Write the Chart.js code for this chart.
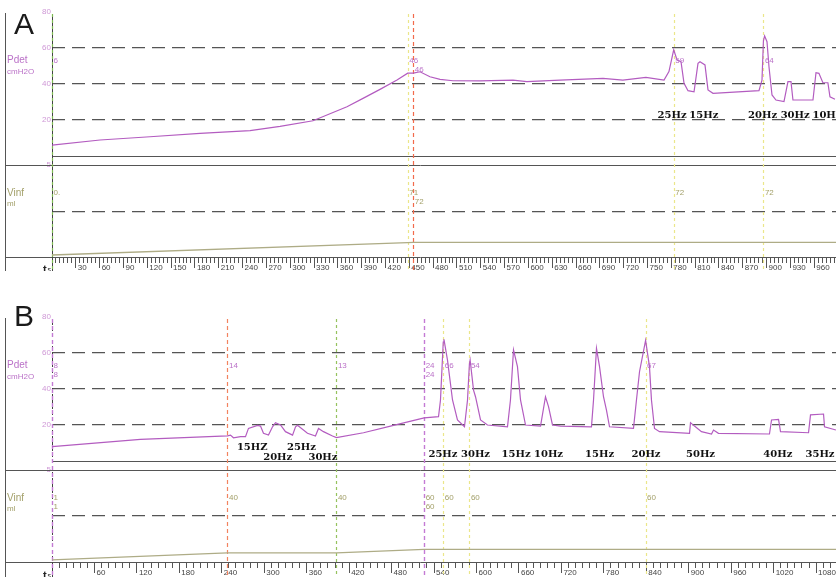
<!DOCTYPE html>
<html>
<head>
<meta charset="utf-8">
<script src="https://cdn.jsdelivr.net/npm/chart.js@4.4.1/dist/chart.umd.min.js"></script>
<style>
  html, body { margin: 0; padding: 0; background: #fff; }
  body { width: 836px; height: 577px; position: relative; overflow: hidden; }
  canvas { position: absolute; left: 0; }
  #chartA { top: 0; }
  #chartB { top: 300px; }
</style>
</head>
<body>
<canvas id="chartA" width="836" height="271"></canvas>
<canvas id="chartB" width="836" height="277"></canvas>
<script>
// ---------- Recording A ----------
const pdetTimeA = [0, 60.5, 123.4, 186.4, 249.4, 287.2, 328.7, 371.5, 391.7, 413.1, 434.5, 448, 455, 463.5, 476, 488.7, 505, 539, 580.6, 598, 639.8, 694, 719, 748, 770.8, 777, 783, 787.2, 792.2, 796, 801, 808.6, 813.6, 816.1, 822.4, 826.2, 832.5, 890.4, 894.2, 896, 897.5, 900.5, 903, 906.8, 911.8, 921.9, 926.9, 930.7, 933.2, 958.4, 962.2, 965.9, 970.9, 977.2, 979.8, 986.1];
const pdetA     = [6, 8.9, 10.7, 12.6, 14.1, 16.5, 19.6, 27.4, 32, 37, 42.2, 46, 46, 46.8, 44, 42.6, 41.8, 41.7, 42.2, 41.3, 42.2, 43.1, 42.2, 43.7, 42.2, 46.9, 59, 53.3, 52.4, 40.4, 36.3, 35.7, 51.5, 52.4, 50.6, 36.7, 34.8, 36.3, 42.2, 64, 66.7, 63.5, 49.6, 33.9, 31.1, 30.2, 41.3, 41.3, 31.1, 31.1, 46.3, 45.9, 40.7, 40.7, 32.9, 31.5];
const vinfTimeA = [0, 448, 455, 988];
const vinfA     = [0, 71, 72, 72];
const markerTimesA = [0, 448, 455, 783, 896];
const markerPdetA  = [6, 46, 46, 59, 64];
const markerVinfA  = [0, 71, 72, 72, 72];
const freqLabelsA = ['25Hz', '15Hz', '20Hz', '30Hz', '10Hz'];
const freqTimesA  = [781, 821, 895, 936, 976];

// ---------- Recording B ----------
const pdetTimeB = [0, 125, 248, 252.3, 256.5, 266.4, 273.5, 277.7, 290.5, 294.7, 298.9, 306, 311.7, 315.9, 323, 330, 340, 344.2, 347, 361.1, 372.4, 376.7, 383.7, 396.5, 402, 440.3, 478.4, 526, 546.3, 549.1, 553, 554, 559, 566.1, 573.1, 583, 587.3, 590, 591, 595.8, 598.6, 605.7, 615.5, 643.8, 648, 652.3, 657.9, 662.2, 669.3, 690.5, 697.5, 701.8, 707.4, 718.7, 762.5, 765.4, 769.6, 773.9, 779.5, 783.7, 788, 821.9, 826.1, 830.4, 839, 844.5, 847.3, 851.6, 858.7, 901.1, 902.5, 908.1, 918, 932.2, 935, 942, 1014.1, 1017, 1026.9, 1029.7, 1069.3, 1072.1, 1090.5, 1091.9, 1108];
const pdetB     = [8, 12, 14, 14.4, 12.9, 13.5, 13.5, 18.1, 19.8, 19.4, 15.4, 14.4, 19, 21.3, 20, 16.3, 14.4, 19, 19.8, 15.4, 13.9, 18.1, 16.3, 13.9, 13, 15.7, 19.4, 24, 24.6, 33.9, 66, 67.6, 56, 33.9, 22.8, 19, 33.9, 54, 56.1, 39.4, 35.7, 22.8, 20, 19, 33.9, 61.7, 52.4, 33.9, 20, 19.4, 35.7, 30.2, 20, 19.4, 19, 33.9, 62.6, 52.4, 35.7, 28.3, 19, 18.1, 33.9, 49.6, 67, 52.4, 33.9, 18.1, 16.3, 15.4, 21.3, 19.4, 16.3, 15, 17.2, 15.4, 15, 22.8, 23.1, 16.3, 15.7, 25.6, 26.1, 19, 17.2];
const vinfTimeB = [0, 248, 402, 526, 1110];
const vinfB     = [1, 40, 40, 60, 60];
const markerTimesB = [0, 0, 248, 402, 526, 526, 553, 590, 839];
const markerPdetB  = [8, 8, 14, 13, 24, 24, 66, 54, 67];
const markerVinfB  = [1, 1, 40, 40, 60, 60, 60, 60, 60];
const freqLabelsB = ['15HZ', '20Hz', '25Hz', '30Hz', '25Hz', '30Hz', '15Hz', '10Hz', '15Hz', '20Hz', '50Hz', '40Hz', '35Hz'];
const freqTimesB  = [283, 319, 352.6, 383, 552.6, 598.6, 656, 701.8, 774, 839.6, 916.6, 1026, 1085.5];

// ---------- Axis ticks ----------
const pdetTicks = [-5, 20, 40, 60, 80];
const pdetGrid  = [20, 40, 60];
const vinfTicks = [250, 500];
const vinfGrid  = [250];

// ---------- Styles ----------
const FONT = '"Liberation Sans", Arial, sans-serif';
const PDET_COLOR = '#b35cc0';
const PDET_TEXT = '#bb72c8';
const PDET_TICK = '#cf98d6';
const VINF_COLOR = '#aeac86';
const VINF_TEXT = '#a3a06a';
const GRID_COLOR = '#555';
const RULE_COLOR = '#555';
const MARK = {
  green:  { color: '#7cb852', dash: [3, 3] },
  yellow: { color: '#ebe68a', dash: [3, 3] },
  red:    { color: '#f26a4b', dash: [4, 3] },
  lilac:  { color: '#c47ad4', dash: [4, 3] },
  orange: { color: '#f2835f', dash: [4, 3] },
  lime:   { color: '#96c25e', dash: [3, 3] }
};
const markerStyleA = [MARK.green, MARK.yellow, MARK.red, MARK.yellow, MARK.yellow];
const markerStyleB = [MARK.lilac, MARK.lilac, MARK.orange, MARK.lime, MARK.lilac, MARK.lilac, MARK.yellow, MARK.yellow, MARK.yellow];

// Panel geometry (pixels inside each canvas)
const panels = [
  {
    letter: 'A', canvas: 'chartA', top: 12, left: 52, axisHeight: 14, pxPerSec: 0.794,
    pdetAnchor: [-5, 165, 80, 12], vinfAnchor: [0, 255, 500, 168],
    majorStep: 30, minorStep: 5, letterY: 34,
    pdetLabelY: 60.5, vinfLabelY: 193, freqY: 115,
    pdetTime: pdetTimeA, pdet: pdetA, vinfTime: vinfTimeA, vinf: vinfA,
    markerTimes: markerTimesA, markerPdet: markerPdetA, markerVinf: markerVinfA, markerStyle: markerStyleA,
    freqLabels: freqLabelsA, freqTimes: freqTimesA
  },
  {
    letter: 'B', canvas: 'chartB', top: 17, left: 52, axisHeight: 15, pxPerSec: 0.7075,
    pdetAnchor: [-5, 170, 80, 17], vinfAnchor: [0, 260, 500, 172],
    majorStep: 60, minorStep: 10, letterY: 25.5,
    pdetLabelY: 65.5, vinfLabelY: 198, freqY: 154,
    pdetTime: pdetTimeB, pdet: pdetB, vinfTime: vinfTimeB, vinf: vinfB,
    markerTimes: markerTimesB, markerPdet: markerPdetB, markerVinf: markerVinfB, markerStyle: markerStyleB,
    freqLabels: freqLabelsB, freqTimes: freqTimesB
  }
];

function points(times, values) {
  return times.map((t, i) => ({ x: t, y: values[i] }));
}

// Axis min/max so that two anchor values land on the given pixel rows
function rangeFromAnchors(a, top, bottom) {
  const k = (a[3] - a[1]) / (a[2] - a[0]);
  return { min: a[0] + (bottom - a[1]) / k, max: a[0] + (top - a[1]) / k };
}

function stepTicks(max, step) {
  const out = [];
  for (let v = 0; v <= max + 1e-6; v += step) out.push({ value: v });
  return out;
}

function valueLabel(v) { return v === 0 ? '0.' : String(v); }

function decorPlugin(panel) {
  const frameX = 5.5;
  return {
    id: 'decor' + panel.letter,
    beforeDatasetsDraw(chart) {
      const { ctx, chartArea: area, scales } = chart;
      const W = chart.width, H = chart.height;
      ctx.save();
      ctx.strokeStyle = RULE_COLOR;
      ctx.lineWidth = 1;
      const hline = (x0, y) => {
        const yy = Math.round(y) + 0.5;
        ctx.beginPath(); ctx.moveTo(x0, yy); ctx.lineTo(W, yy); ctx.stroke();
      };
      hline(area.left, scales.p.getPixelForValue(0));
      hline(frameX - 0.5, scales.p.getPixelForValue(pdetTicks[0]));
      hline(frameX - 0.5, area.bottom - 0.5);
      ctx.beginPath(); ctx.moveTo(frameX, area.top + 1); ctx.lineTo(frameX, H); ctx.stroke();

      // event markers
      panel.markerTimes.forEach((t, i) => {
        const st = panel.markerStyle[i];
        const x = Math.round(scales.x.getPixelForValue(t)) + 0.5;
        if (t === 0) {
          ctx.setLineDash([3, 3]);
          ctx.lineDashOffset = 3;
          ctx.strokeStyle = '#444';
          ctx.beginPath(); ctx.moveTo(x, area.top + 2); ctx.lineTo(x, H); ctx.stroke();
        }
        ctx.setLineDash(st.dash);
        ctx.lineDashOffset = 0;
        ctx.strokeStyle = st.color;
        ctx.lineWidth = 1.2;
        ctx.beginPath(); ctx.moveTo(x, area.top + 2); ctx.lineTo(x, H); ctx.stroke();
        ctx.lineWidth = 1;
      });
      ctx.restore();
    },
    afterDatasetsDraw(chart) {
      const { ctx, scales } = chart;
      const H = chart.height;
      ctx.save();
      ctx.textBaseline = 'middle';

      // panel letter
      ctx.fillStyle = '#1a1a1a';
      ctx.font = '30px ' + FONT;
      ctx.textBaseline = 'alphabetic';
      ctx.fillText(panel.letter, 14, panel.letterY);
      ctx.textBaseline = 'middle';

      // channel names
      const nameX = 7;
      ctx.fillStyle = PDET_TEXT;
      ctx.font = '10px ' + FONT;
      ctx.fillText('Pdet', nameX, panel.pdetLabelY);
      ctx.font = '8px ' + FONT;
      ctx.fillText('cmH2O', nameX, panel.pdetLabelY + 11.5);
      ctx.fillStyle = VINF_TEXT;
      ctx.font = '10px ' + FONT;
      ctx.fillText('Vinf', nameX, panel.vinfLabelY);
      ctx.font = '8px ' + FONT;
      ctx.fillText('ml', nameX, panel.vinfLabelY + 11);

      // time axis name
      ctx.fillStyle = '#222';
      ctx.textBaseline = 'alphabetic';
      ctx.font = 'bold 11px ' + FONT;
      ctx.fillText('t', 43, H + 2);
      ctx.font = '7px ' + FONT;
      ctx.fillText('s', 47.5, H + 1);
      ctx.textBaseline = 'middle';

      // marker readouts, stacked when two markers share a moment
      let prevT = -1e9, row = 0;
      ctx.font = '8px ' + FONT;
      panel.markerTimes.forEach((t, i) => {
        row = (Math.abs(t - prevT) < 10) ? row + 1 : 0;
        prevT = t;
        const x = scales.x.getPixelForValue(t) + 1.5;
        ctx.fillStyle = PDET_TEXT;
        ctx.fillText(String(panel.markerPdet[i]), x, panel.pdetLabelY + row * 9);
        ctx.fillStyle = VINF_TEXT;
        ctx.fillText(valueLabel(panel.markerVinf[i]), x, panel.vinfLabelY + row * 9);
      });

      // stimulation frequency labels; overlapping neighbours are staggered
      ctx.font = 'bold 10px "DejaVu Serif", serif';
      ctx.fillStyle = '#111';
      ctx.textAlign = 'center';
      const items = panel.freqLabels.map((s, i) => ({
        s, x: scales.x.getPixelForValue(panel.freqTimes[i]), w: ctx.measureText(s).width
      }));
      const inGroup = items.map(() => false);
      for (let i = 1; i < items.length; i++) {
        if (Math.abs(items[i].x - items[i - 1].x) < (items[i].w + items[i - 1].w) / 2) {
          inGroup[i] = inGroup[i - 1] = true;
        }
      }
      let k = 0;
      items.forEach((it, i) => {
        let y = panel.freqY;
        if (inGroup[i]) {
          if (i === 0 || !inGroup[i - 1]) k = 0;
          y = panel.freqY + (k % 2 === 0 ? -7 : 3);
          k++;
        }
        ctx.fillText(it.s, it.x, y);
      });
      ctx.restore();
    }
  };
}

panels.forEach(panel => {
  const canvas = document.getElementById(panel.canvas);
  const H = canvas.height, W = canvas.width;
  const bottom = H - panel.axisHeight;
  const pr = rangeFromAnchors(panel.pdetAnchor, panel.top, bottom);
  const vr = rangeFromAnchors(panel.vinfAnchor, panel.top, bottom);
  const xMax = (W - panel.left) / panel.pxPerSec;

  new Chart(canvas, {
    type: 'line',
    data: {
      datasets: [
        {
          label: 'Pdet', data: points(panel.pdetTime, panel.pdet), yAxisID: 'p', xAxisID: 'x',
          borderColor: PDET_COLOR, borderWidth: 1.2, pointRadius: 0, tension: 0
        },
        {
          label: 'Vinf', data: points(panel.vinfTime, panel.vinf), yAxisID: 'v', xAxisID: 'x',
          borderColor: VINF_COLOR, borderWidth: 1.3, pointRadius: 0, tension: 0
        }
      ]
    },
    options: {
      responsive: false,
      animation: false,
      devicePixelRatio: 1,
      layout: { padding: { top: panel.top, left: 0, right: 0, bottom: 0 } },
      plugins: { legend: { display: false }, tooltip: { enabled: false } },
      scales: {
        x: {
          type: 'linear', position: 'bottom', weight: 1, min: 0, max: xMax,
          afterBuildTicks: s => { s.ticks = stepTicks(xMax, panel.majorStep); },
          afterFit: s => { s.height = panel.axisHeight; s.paddingLeft = 0; s.paddingRight = 0; },
          grid: { drawOnChartArea: false, drawTicks: true, tickLength: 11, tickColor: RULE_COLOR, tickWidth: 1 },
          border: { display: false },
          ticks: {
            autoSkip: false, maxRotation: 0, align: 'start', labelOffset: 2, padding: -5,
            color: '#444', font: { family: FONT, size: 8 },
            callback: v => (v === 0 ? '' : String(v))
          }
        },
        xm: {
          type: 'linear', position: 'bottom', weight: 0, min: 0, max: xMax,
          afterBuildTicks: s => { s.ticks = stepTicks(xMax, panel.minorStep); },
          afterFit: s => { s.height = 0; s.paddingLeft = 0; s.paddingRight = 0; },
          grid: { drawOnChartArea: false, drawTicks: true, tickLength: 6, tickColor: RULE_COLOR, tickWidth: 1 },
          border: { display: false },
          ticks: { display: false, autoSkip: false }
        },
        p: {
          type: 'linear', position: 'left', weight: 1, min: pr.min, max: pr.max,
          afterBuildTicks: s => { s.ticks = pdetTicks.map(v => ({ value: v })); },
          afterFit: s => { s.width = panel.left; s.paddingTop = 0; s.paddingBottom = 0; },
          grid: {
            drawTicks: false, lineWidth: 1.3,
            color: c => (c.tick && pdetGrid.includes(c.tick.value)) ? GRID_COLOR : 'rgba(0,0,0,0)'
          },
          border: { display: false, dash: [13, 7] },
          ticks: { autoSkip: false, padding: 1, color: PDET_TICK, font: { family: FONT, size: 8 }, callback: v => String(v) }
        },
        v: {
          type: 'linear', position: 'left', weight: 0, min: vr.min, max: vr.max,
          afterBuildTicks: s => { s.ticks = vinfTicks.map(v => ({ value: v })); },
          afterFit: s => { s.width = 0; s.paddingTop = 0; s.paddingBottom = 0; },
          grid: {
            drawTicks: false, lineWidth: 1.3,
            color: c => (c.tick && vinfGrid.includes(c.tick.value)) ? GRID_COLOR : 'rgba(0,0,0,0)'
          },
          border: { display: false, dash: [13, 7] },
          ticks: { autoSkip: false, padding: 1, color: VINF_TEXT, font: { family: FONT, size: 8 }, callback: v => String(v) }
        }
      }
    },
    plugins: [decorPlugin(panel)]
  });
});
</script>
</body>
</html>
